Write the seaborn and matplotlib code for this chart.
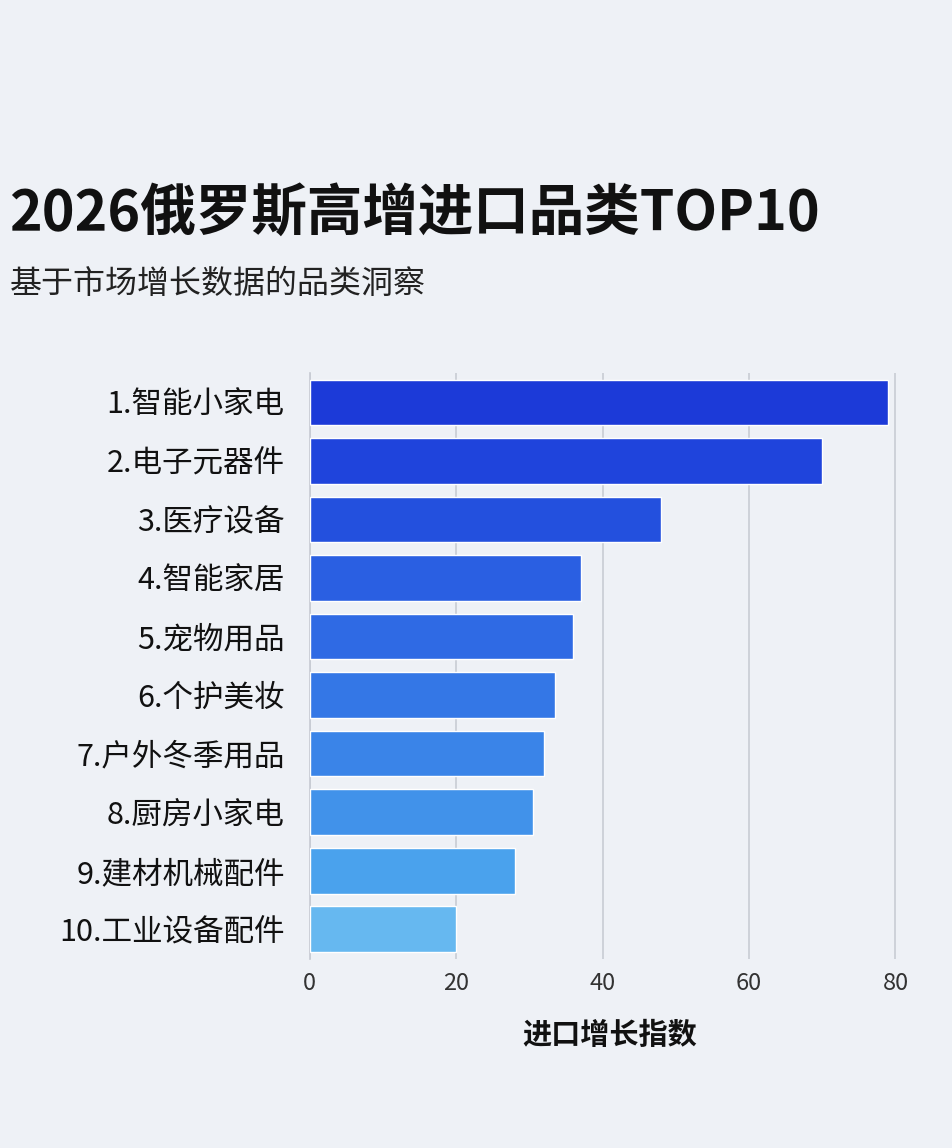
import matplotlib
matplotlib.use("Agg")
import matplotlib.pyplot as plt
import seaborn as sns
import pandas as pd

# data
categories = ["1.智能小家电", "2.电子元器件", "3.医疗设备", "4.智能家居", "5.宠物用品",
              "6.个护美妆", "7.户外冬季用品", "8.厨房小家电", "9.建材机械配件", "10.工业设备配件"]
values = [79, 70, 48, 37, 36, 33.5, 32, 30.5, 28, 20]
colors = ["#1c3ad8", "#1f44dc", "#2350de", "#2a5fe2", "#2f6ae4",
          "#3477e6", "#3a84e8", "#4192ea", "#4aa2ed", "#66b8f0"]
ticks = [0, 20, 40, 60, 80]

sns.set_theme(style="white")
plt.rcParams["font.family"] = ["Noto Sans CJK SC", "DejaVu Sans"]

df = pd.DataFrame({"cat": categories, "val": values})

fig = plt.figure(figsize=(9.53, 11.48), dpi=100)
fig.patch.set_facecolor("#eef1f6")
ax = fig.add_axes([0.325, 0.165, 0.63, 0.51])
ax.set_facecolor("#eef1f6")
sns.barplot(data=df, y="cat", x="val", hue="cat", palette=colors, legend=False,
            saturation=1, width=0.78, ax=ax, zorder=3)

ax.set_xlim(0, 82)
ax.set_xticks(ticks)
ax.set_xticklabels([str(t) for t in ticks], fontsize=17, color="#333333")
ax.tick_params(axis="y", labelsize=22, colors="#111111", length=0, pad=18)
ax.tick_params(axis="x", length=0, pad=10)
ax.grid(axis="x", color="#c8ccd4", lw=1.2, zorder=0)
for s in ["top", "right", "bottom"]:
    ax.spines[s].set_visible(False)
ax.spines["left"].set_color("#c8ccd4")
ax.set_ylabel("")
ax.set_xlabel("进口增长指数", fontsize=21, fontweight="bold", color="#111111", labelpad=18)

fig.text(0.01, 0.80, "2026俄罗斯高增进口品类TOP10", fontsize=40, fontweight="bold", color="#111111")
fig.text(0.01, 0.745, "基于市场增长数据的品类洞察", fontsize=23, color="#222222")

fig.savefig("out.png", dpi=100, facecolor=fig.get_facecolor())
